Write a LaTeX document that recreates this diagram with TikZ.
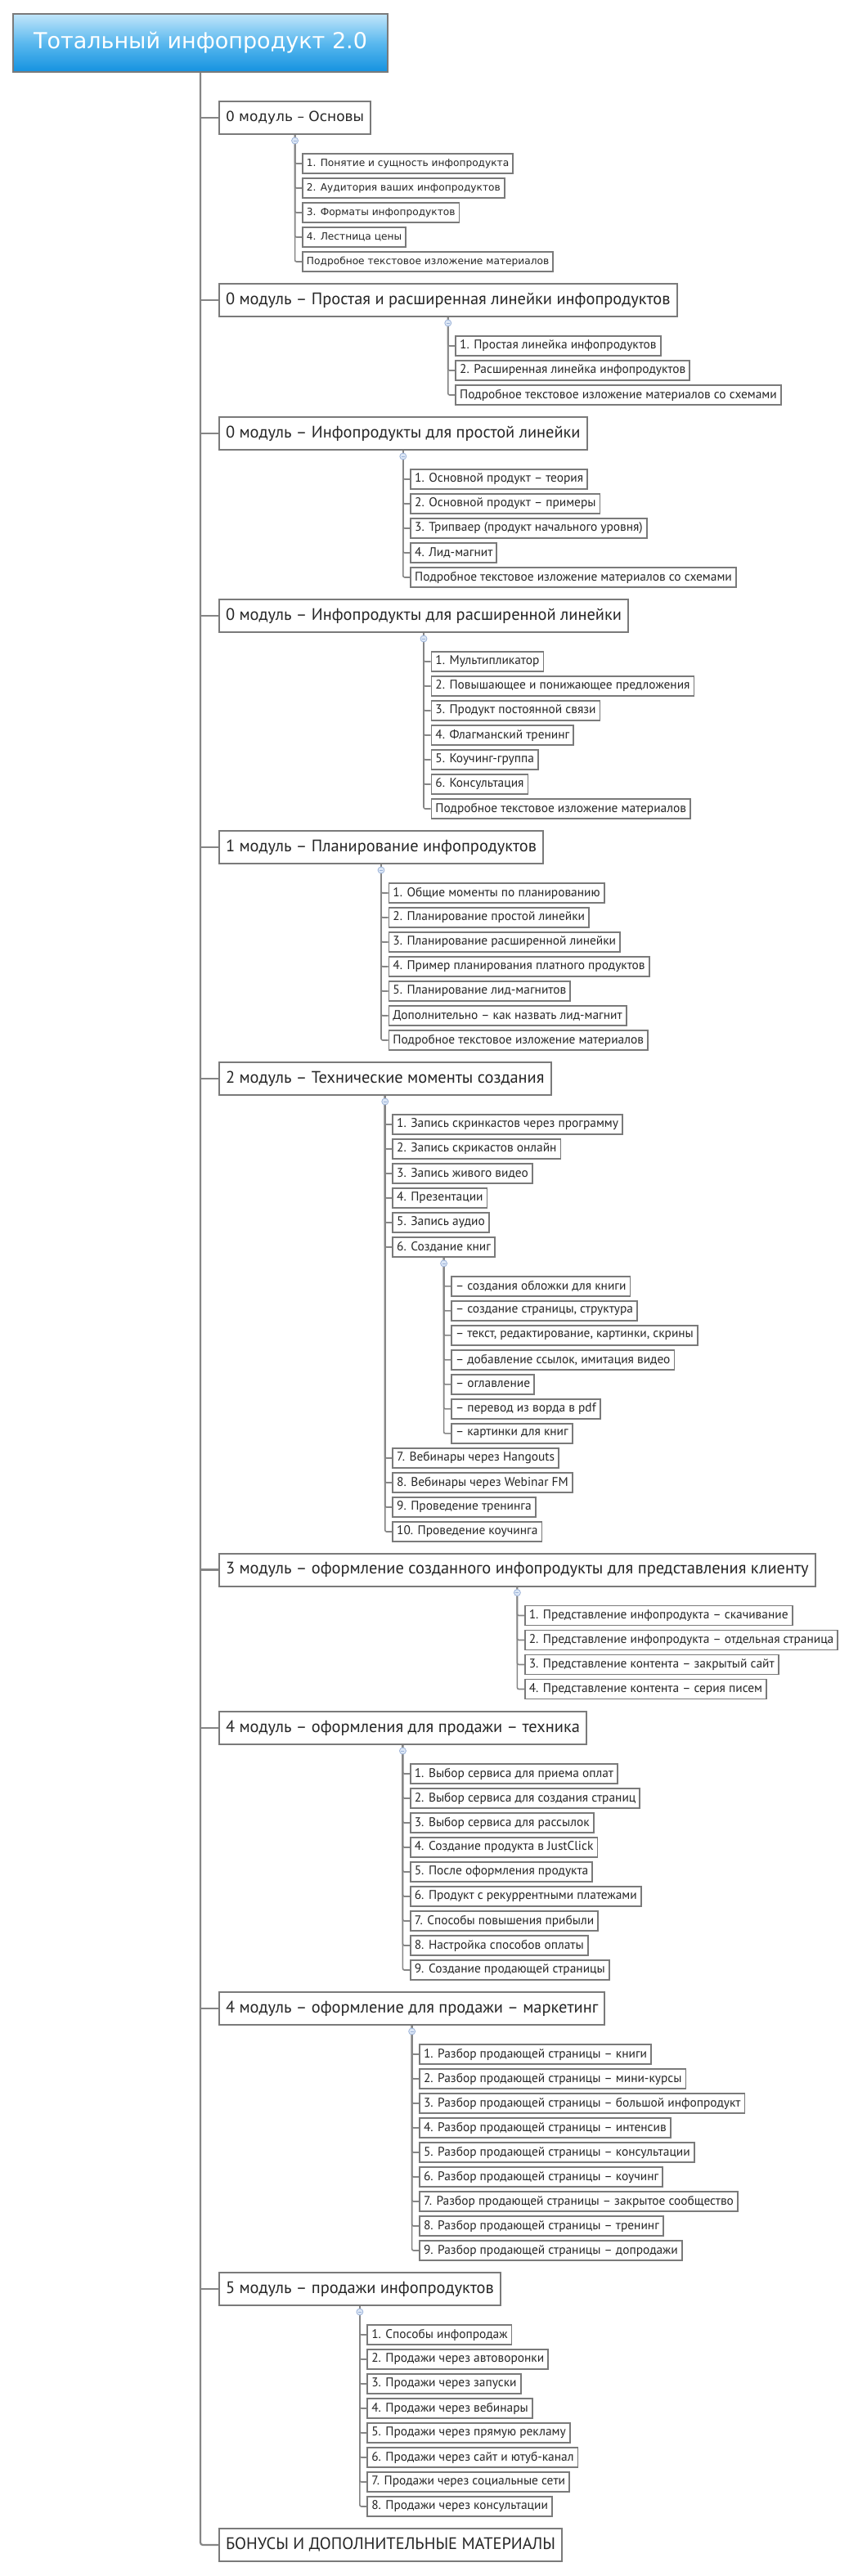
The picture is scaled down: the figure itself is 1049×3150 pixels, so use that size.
\documentclass[tikz,border=0pt]{standalone}
\usepackage{fontspec}
\setmainfont{PT Sans}
\newfontfamily\lucidaf{DejaVu Sans}
\usetikzlibrary{positioning,calc}
\definecolor{boxgray}{HTML}{7A7A7A}
\definecolor{linegray}{HTML}{858585}
\definecolor{txtdark}{HTML}{262626}
\definecolor{skytop}{HTML}{C2E6FA}
\definecolor{skymid}{HTML}{5AB8EE}
\definecolor{skybot}{HTML}{1492E0}
\definecolor{markblue}{HTML}{9DB3D8}
\definecolor{markfill}{HTML}{DCE7F6}

\tikzset{
  rootbox/.style={draw=boxgray, line width=2pt, top color=skytop, bottom color=skybot,
    middle color=skymid, minimum width=458pt, minimum height=71pt, text=white,
    font=\lucidaf\fontsize{27}{30}\selectfont},
  modbox/.style={draw=boxgray, line width=2pt, fill=white, anchor=west,
    minimum height=40pt, inner xsep=8pt, text=txtdark, font=\fontsize{20.4}{23}\selectfont},
  itembox/.style={draw=boxgray, line width=1.8pt, fill=white, anchor=west,
    minimum height=24pt, inner xsep=5pt, inner ysep=2pt, text=txtdark,
    font=\fontsize{15.4}{18}\selectfont},
  lucmod/.style={modbox, font=\lucidaf\fontsize{17}{20}\selectfont},
  lucitem/.style={itembox, font=\lucidaf\fontsize{12.2}{15}\selectfont},
  trunk/.style={draw=linegray, line width=2.2pt, rounded corners=3pt},
  branch/.style={draw=linegray, line width=1.6pt, rounded corners=2pt},
  marker/.style={circle, draw=markblue, fill=markfill, line width=0.8pt, inner sep=0pt,
    minimum size=8pt, path picture={\draw[markblue, line width=0.8pt]
      ([xshift=2pt]path picture bounding box.west) -- ([xshift=-2pt]path picture bounding box.east);}}
}

\begin{document}
\begin{tikzpicture}[x=1pt, y=-1pt]
  \useasboundingbox (0,0) rectangle (1049,3150);
  \node[rootbox] (root) at (245,52.5) {Тотальный инфопродукт 2.0};

  % modules hanging from the trunk
  \node[lucmod] (m1) at (267,144) {0 модуль – Основы};
  \node[modbox] (m2) at (267,367) {0 модуль – Простая и расширенная линейки инфопродуктов};
  \node[modbox] (m3) at (267,530) {0 модуль – Инфопродукты для простой линейки};
  \node[modbox] (m4) at (267,753) {0 модуль – Инфопродукты для расширенной линейки};
  \node[modbox] (m5) at (267,1036) {1 модуль – Планирование инфопродуктов};
  \node[modbox] (m6) at (267,1319) {2 модуль – Технические моменты создания};
  \node[modbox] (m7) at (267,1919.5) {3 модуль – оформление созданного инфопродукты для представления клиенту};
  \node[modbox] (m8) at (267,2113) {4 модуль – оформления для продажи – техника};
  \node[modbox] (m9) at (267,2456) {4 модуль – оформление для продажи – маркетинг};
  \node[modbox] (m10) at (267,2799) {5 модуль – продажи инфопродуктов};
  \node[modbox] (m11) at (267,3112) {БОНУСЫ И ДОПОЛНИТЕЛЬНЫЕ МАТЕРИАЛЫ};

  \draw[trunk] (root.south) |- (m11.west);
  \foreach \m in {m1,m2,m3,m4,m5,m6,m7,m8,m9,m10}
    \draw[trunk] (root.south |- \m.west) -- (\m.west);

  % 0 модуль - основы
  \foreach \i/\t in {1/{1. Понятие и сущность инфопродукта}, 2/{2. Аудитория ваших инфопродуктов},
      3/{3. Форматы инфопродуктов}, 4/{4. Лестница цены}, 5/{Подробное текстовое изложение материалов}}{
    \node[lucitem] (m1-\i) at ($(m1.south)+(8.5,5+30*\i)$) {\t};
    \draw[branch] (m1.south) |- (m1-\i.west);
  }
  \node[marker] at ($(m1.south)+(0,7)$) {};

  \foreach \i/\t in {1/{1. Простая линейка инфопродуктов}, 2/{2. Расширенная линейка инфопродуктов},
      3/{Подробное текстовое изложение материалов со схемами}}{
    \node[itembox] (m2-\i) at ($(m2.south)+(8.5,5+30*\i)$) {\t};
    \draw[branch] (m2.south) |- (m2-\i.west);
  }
  \node[marker] at ($(m2.south)+(0,7)$) {};

  \foreach \i/\t in {1/{1. Основной продукт – теория}, 2/{2. Основной продукт – примеры},
      3/{3. Трипваер (продукт начального уровня)}, 4/{4. Лид-магнит},
      5/{Подробное текстовое изложение материалов со схемами}}{
    \node[itembox] (m3-\i) at ($(m3.south)+(8.5,5+30*\i)$) {\t};
    \draw[branch] (m3.south) |- (m3-\i.west);
  }
  \node[marker] at ($(m3.south)+(0,7)$) {};

  \foreach \i/\t in {1/{1. Мультипликатор}, 2/{2. Повышающее и понижающее предложения},
      3/{3. Продукт постоянной связи}, 4/{4. Флагманский тренинг}, 5/{5. Коучинг-группа},
      6/{6. Консультация}, 7/{Подробное текстовое изложение материалов}}{
    \node[itembox] (m4-\i) at ($(m4.south)+(8.5,5+30*\i)$) {\t};
    \draw[branch] (m4.south) |- (m4-\i.west);
  }
  \node[marker] at ($(m4.south)+(0,7)$) {};

  \foreach \i/\t in {1/{1. Общие моменты по планированию}, 2/{2. Планирование простой линейки},
      3/{3. Планирование расширенной линейки}, 4/{4. Пример планирования платного продуктов},
      5/{5. Планирование лид-магнитов}, 6/{Дополнительно – как назвать лид-магнит},
      7/{Подробное текстовое изложение материалов}}{
    \node[itembox] (m5-\i) at ($(m5.south)+(8.5,5+30*\i)$) {\t};
    \draw[branch] (m5.south) |- (m5-\i.west);
  }
  \node[marker] at ($(m5.south)+(0,7)$) {};

  % 2 модуль: the book item has its own sub-list
  \foreach \i/\t in {1/{1. Запись скринкастов через программу}, 2/{2. Запись скрикастов онлайн},
      3/{3. Запись живого видео}, 4/{4. Презентации}, 5/{5. Запись аудио}, 6/{6. Создание книг}}{
    \node[itembox] (m6-\i) at ($(m6.south)+(8.5,5+30*\i)$) {\t};
    \draw[branch] (m6.south) |- (m6-\i.west);
  }
  \foreach \i/\t in {7/{7. Вебинары через Hangouts}, 8/{8. Вебинары через Webinar FM},
      9/{9. Проведение тренинга}, 10/{10. Проведение коучинга}}{
    \node[itembox] (m6-\i) at ($(m6.south)+(8.5,233+30*\i)$) {\t};
    \draw[branch] (m6.south) |- (m6-\i.west);
  }
  \foreach \j/\t in {1/{– создания обложки для книги}, 2/{– создание страницы, структура},
      3/{– текст, редактирование, картинки, скрины}, 4/{– добавление ссылок, имитация видео},
      5/{– оглавление}, 6/{– перевод из ворда в pdf}, 7/{– картинки для книг}}{
    \node[itembox] (m6-6-\j) at ($(m6-6.south)+(8.5,5+30*\j)$) {\t};
    \draw[branch] (m6-6.south) |- (m6-6-\j.west);
  }
  \node[marker] at ($(m6.south)+(0,7)$) {};
  \node[marker] at ($(m6-6.south)+(0,7)$) {};

  \foreach \i/\t in {1/{1. Представление инфопродукта – скачивание},
      2/{2. Представление инфопродукта – отдельная страница},
      3/{3. Представление контента – закрытый сайт}, 4/{4. Представление контента – серия писем}}{
    \node[itembox] (m7-\i) at ($(m7.south)+(8.5,5+30*\i)$) {\t};
    \draw[branch] (m7.south) |- (m7-\i.west);
  }
  \node[marker] at ($(m7.south)+(0,7)$) {};

  \foreach \i/\t in {1/{1. Выбор сервиса для приема оплат}, 2/{2. Выбор сервиса для создания страниц},
      3/{3. Выбор сервиса для рассылок}, 4/{4. Создание продукта в JustClick},
      5/{5. После оформления продукта}, 6/{6. Продукт с рекуррентными платежами},
      7/{7. Способы повышения прибыли}, 8/{8. Настройка способов оплаты},
      9/{9. Создание продающей страницы}}{
    \node[itembox] (m8-\i) at ($(m8.south)+(8.5,5+30*\i)$) {\t};
    \draw[branch] (m8.south) |- (m8-\i.west);
  }
  \node[marker] at ($(m8.south)+(0,7)$) {};

  \foreach \i/\t in {1/книги, 2/мини-курсы, 3/большой инфопродукт, 4/интенсив, 5/консультации,
      6/коучинг, 7/закрытое сообщество, 8/тренинг, 9/допродажи}{
    \node[itembox] (m9-\i) at ($(m9.south)+(8.5,5+30*\i)$) {\i. Разбор продающей страницы – \t};
    \draw[branch] (m9.south) |- (m9-\i.west);
  }
  \node[marker] at ($(m9.south)+(0,7)$) {};

  \foreach \i/\t in {1/{1. Способы инфопродаж}, 2/{2. Продажи через автоворонки},
      3/{3. Продажи через запуски}, 4/{4. Продажи через вебинары},
      5/{5. Продажи через прямую рекламу}, 6/{6. Продажи через сайт и ютуб-канал},
      7/{7. Продажи через социальные сети}, 8/{8. Продажи через консультации}}{
    \node[itembox] (m10-\i) at ($(m10.south)+(8.5,5+30*\i)$) {\t};
    \draw[branch] (m10.south) |- (m10-\i.west);
  }
  \node[marker] at ($(m10.south)+(0,7)$) {};
\end{tikzpicture}
\end{document}
